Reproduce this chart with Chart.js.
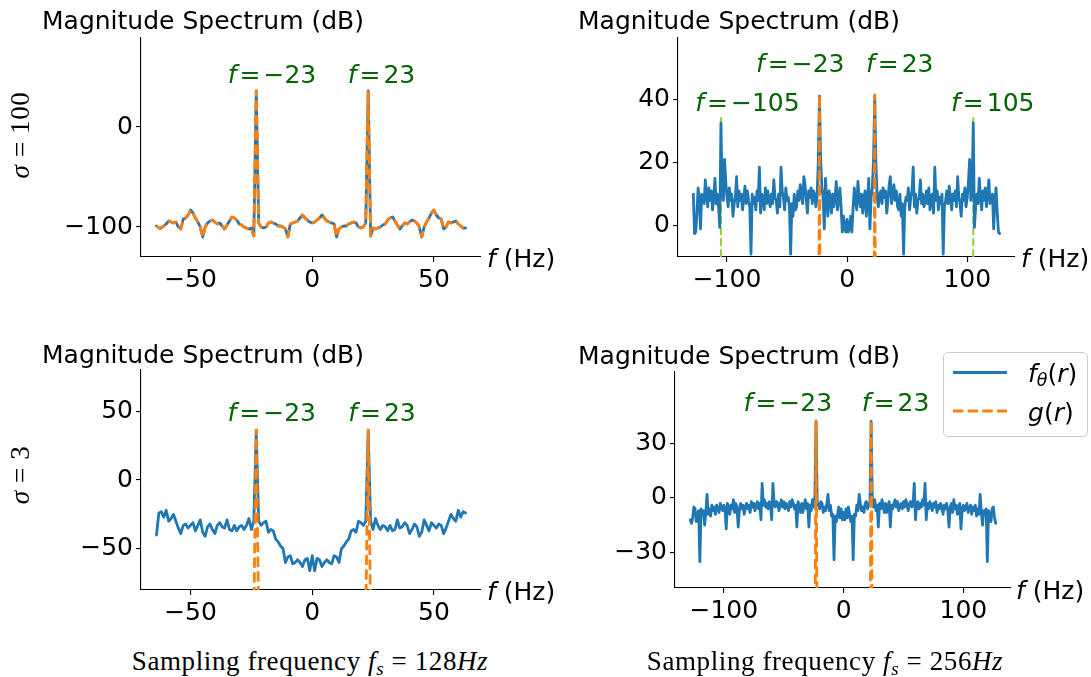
<!DOCTYPE html>
<html><head><meta charset="utf-8">
<script src="https://cdn.jsdelivr.net/npm/chart.js@4.4.1/dist/chart.umd.min.js"></script>
<style>
html,body{margin:0;padding:0;background:#fff;}
#page{position:relative;width:1091px;height:677px;overflow:hidden;font-family:"DejaVu Sans",sans-serif;}
canvas{position:absolute;}
.t{position:absolute;white-space:nowrap;color:#000;line-height:1;}
.title{font-family:"DejaVu Sans";font-size:25px;}
.serif{font-family:"Liberation Serif",serif;font-size:27px;letter-spacing:0.6px;}
.mid{transform:translateX(-50%);}
.rot{transform:translate(-50%,-50%) rotate(-90deg);}
#legend{position:absolute;left:943px;top:352px;width:143px;height:83px;border:1px solid #cccccc;border-radius:5px;background:rgba(255,255,255,0.8);}
#legend .lt{position:absolute;font-family:"DejaVu Sans";font-size:25px;line-height:1;white-space:nowrap;}
sub{font-size:70%;vertical-align:-0.25em;line-height:0;}
</style></head>
<body><div id="page">
<canvas id="cTL"></canvas><canvas id="cTR"></canvas><canvas id="cBL"></canvas><canvas id="cBR"></canvas>
<div class="t title" style="left:42px;top:8px;">Magnitude Spectrum (dB)</div>
<div class="t title" style="left:578px;top:8px;">Magnitude Spectrum (dB)</div>
<div class="t title" style="left:42px;top:342px;">Magnitude Spectrum (dB)</div>
<div class="t title" style="left:578px;top:343px;">Magnitude Spectrum (dB)</div>
<div class="t serif rot" style="left:20px;top:135px;"><i>σ</i> = 100</div>
<div class="t serif rot" style="left:20px;top:475px;"><i>σ</i> = 3</div>
<div class="t serif mid" style="left:310px;top:648px;">Sampling frequency <i>f</i><sub><i>s</i></sub> = 128<i>Hz</i></div>
<div class="t serif mid" style="left:825px;top:648px;">Sampling frequency <i>f</i><sub><i>s</i></sub> = 256<i>Hz</i></div>
<div id="legend">
<svg width="143" height="83" style="position:absolute;left:0;top:0;">
<line x1="9" y1="19.5" x2="63" y2="19.5" stroke="#1f77b4" stroke-width="2.8"/>
<line x1="9" y1="58" x2="63" y2="58" stroke="#ff7f0e" stroke-width="2.8" stroke-dasharray="10.3 4.4"/>
</svg>
<div class="lt" style="left:84px;top:8px;"><i>f</i><sub><i>θ</i></sub>(<i>r</i>)</div>
<div class="lt" style="left:84px;top:47px;"><i>g</i>(<i>r</i>)</div>
</div>
</div>
<script>
// ---------- categories (frequency bins, Hz) ----------
const freq128 = [
-64,-63,-62,-61,-60,-59,-58,-57,-56,-55,-54,-53,-52,-51,-50,-49,
-48,-47,-46,-45,-44,-43,-42,-41,-40,-39,-38,-37,-36,-35,-34,-33,
-32,-31,-30,-29,-28,-27,-26,-25,-24,-23,-22,-21,-20,-19,-18,-17,
-16,-15,-14,-13,-12,-11,-10,-9,-8,-7,-6,-5,-4,-3,-2,-1,
0,1,2,3,4,5,6,7,8,9,10,11,12,13,14,15,
16,17,18,19,20,21,22,23,24,25,26,27,28,29,30,31,
32,33,34,35,36,37,38,39,40,41,42,43,44,45,46,47,
48,49,50,51,52,53,54,55,56,57,58,59,60,61,62,63];
const freq256 = [
-128,-127,-126,-125,-124,-123,-122,-121,-120,-119,-118,-117,-116,-115,-114,-113,
-112,-111,-110,-109,-108,-107,-106,-105,-104,-103,-102,-101,-100,-99,-98,-97,
-96,-95,-94,-93,-92,-91,-90,-89,-88,-87,-86,-85,-84,-83,-82,-81,
-80,-79,-78,-77,-76,-75,-74,-73,-72,-71,-70,-69,-68,-67,-66,-65,
-64,-63,-62,-61,-60,-59,-58,-57,-56,-55,-54,-53,-52,-51,-50,-49,
-48,-47,-46,-45,-44,-43,-42,-41,-40,-39,-38,-37,-36,-35,-34,-33,
-32,-31,-30,-29,-28,-27,-26,-25,-24,-23,-22,-21,-20,-19,-18,-17,
-16,-15,-14,-13,-12,-11,-10,-9,-8,-7,-6,-5,-4,-3,-2,-1,
0,1,2,3,4,5,6,7,8,9,10,11,12,13,14,15,
16,17,18,19,20,21,22,23,24,25,26,27,28,29,30,31,
32,33,34,35,36,37,38,39,40,41,42,43,44,45,46,47,
48,49,50,51,52,53,54,55,56,57,58,59,60,61,62,63,
64,65,66,67,68,69,70,71,72,73,74,75,76,77,78,79,
80,81,82,83,84,85,86,87,88,89,90,91,92,93,94,95,
96,97,98,99,100,101,102,103,104,105,106,107,108,109,110,111,
112,113,114,115,116,117,118,119,120,121,122,123,124,125,126,127];

// ---------- tick labels ----------
const xTicks128 = [-50, 0, 50];
const xTicks256 = [-100, 0, 100];
const yTicksTL = [-100, 0];
const yTicksTR = [0, 20, 40];
const yTicksBL = [-50, 0, 50];
const yTicksBR = [-30, 0, 30];

// ---------- annotated frequencies ----------
const peakFreqs = [-23, 23];
const aliasFreqs = [-105, 105];
const aliasLineTop = [35, 35];

// ---------- sigma = 100, fs = 128 ----------
const fthetaTL = [
-99,-101,-101,-99,-97,-94,-95,-96,-95,-100,-102,-92,-91,-88,-83,-86,
-91,-95,-100,-110,-100,-96,-94,-93,-95,-97,-96,-99,-102,-98,-94,-90,
-91,-93,-97,-98,-100,-101,-102,-101,-109,36,-96,-100,-101,-100,-96,-95,
-96,-97,-99,-99,-100,-102,-110,-97,-96,-95,-94,-91,-88,-91,-93,-95,
-96,-95,-93,-91,-88,-91,-94,-95,-96,-97,-110,-102,-100,-99,-99,-97,
-96,-95,-96,-100,-101,-100,-96,36,-109,-101,-102,-101,-100,-98,-97,-93,
-91,-90,-94,-98,-102,-99,-96,-97,-95,-93,-94,-96,-100,-110,-100,-95,
-91,-86,-83,-88,-91,-92,-102,-100,-95,-96,-95,-94,-97,-99,-101,-101];
const gTL = [
-99,-101,-101,-99,-97,-94,-95,-96,-95,-100,-102,-92,-91,-88,-83,-86,
-91,-95,-100,-110,-100,-96,-94,-93,-95,-97,-96,-99,-102,-98,-94,-90,
-91,-93,-97,-98,-100,-101,-102,-101,-109,36,-96,-100,-101,-100,-96,-95,
-96,-97,-99,-99,-100,-102,-110,-97,-96,-95,-94,-91,-88,-91,-93,-95,
-96,-95,-93,-91,-88,-91,-94,-95,-96,-97,-110,-102,-100,-99,-99,-97,
-96,-95,-96,-100,-101,-100,-96,36,-109,-101,-102,-101,-100,-98,-97,-93,
-91,-90,-94,-98,-102,-99,-96,-97,-95,-93,-94,-96,-100,-110,-100,-95,
-91,-86,-83,-88,-91,-92,-102,-100,-95,-96,-95,-94,-97,-99,-101,-101];

// ---------- sigma = 100, fs = 256 ----------
const fthetaTR = [
10,-2.5,-2,4,12,8,-1,10,9,7,14.5,10,6,12,8,11,
5,9,15,7,10,6,-0.5,32.5,11,8,21,14,9,6,12,8,
10,3,7,9,15.5,6,11,8,10,5,9,12.5,7,11,8,6,
-9,10,7,9,5,11,8,18.5,4,10,9,5,12,7,11,8,
6,10,7,14.5,9,8,4,10,6,18.5,11,9,5,12,8,9,
6,-9,7,3,10,5,6,11,8,13,10,7,15.5,13,8,4,
11,9,12,7,11,10,6,9,20,41,21,12,9,-1,15,8,
3,11,9,4,10,6,9,14,5,8,12,6,-2,3,-1,-2,
2,-2,-1,3,-2,6,12,8,5,14,9,6,10,4,9,11,
3,8,15,-1,9,12,21,41,20,9,6,10,11,7,12,9,
11,4,8,13,15.5,7,10,13,8,11,6,5,10,3,7,-9,
6,9,8,12,5,9,11,18.5,6,10,4,8,9,14.5,7,10,
6,8,11,7,12,5,9,10,4,18.5,8,11,5,9,7,10,
-9,6,8,11,7,12.5,9,5,10,8,11,6,15.5,9,7,3,
10,8,12,6,9,14,21,8,11,32.5,-0.5,6,10,7,15,9,
5,11,8,12,6,10,14.5,7,9,10,-1,8,12,4,-2,-2.5];
const gTRFreq = [-128, -24, -23, -22, 22, 23, 24, 127];
const gTR = [-100, -100, 41.4, -100, -100, 41.4, -100, -100];

// ---------- sigma = 3, fs = 128 ----------
const fthetaBL = [
-40,-24,-23,-27,-22,-30,-28,-25,-30,-35,-39,-33,-32,-35,-33,-31,
-37,-33,-29,-38,-41,-34,-32,-36,-39,-33,-31,-34,-35,-29,-36,-37,
-33,-37,-34,-33,-36,-33,-28,-36,-30,36,-30,-33,-31,-30,-38,-36,
-37,-43,-45,-48,-50,-60,-56,-55,-61,-60,-58,-60,-63,-58,-57,-66,
-55,-66,-57,-58,-63,-60,-58,-60,-61,-55,-56,-60,-50,-48,-45,-43,
-37,-36,-38,-30,-31,-33,-30,36,-30,-36,-28,-33,-36,-33,-34,-37,
-33,-37,-36,-29,-35,-34,-31,-33,-39,-36,-32,-34,-41,-38,-29,-33,
-37,-31,-33,-35,-32,-33,-39,-35,-30,-25,-28,-30,-22,-27,-23,-24];
const gBLFreq = [-64, -24, -23, -22, 22, 23, 24, 63];
const gBL = [-100, -100, 36.4, -100, -100, 36.4, -100, -100];

// ---------- sigma = 3, fs = 256 ----------
const fthetaBR = [
-12,-14,-11,-5,-6,-13,-9,-7,-35,-6,-9,-7,-15,-8,2,-9,
-6,-10,-4,-7,-5,-9,-4,-6,-8,-3,-5,-7,-4,-6,-17,-3,
-5,-9,-4,-6,-1,-8,-3,-5,-16,-7,-3,-6,-4,-9,-5,-3,
-6,-4,-8,-2,-5,-3,-7,-4,-2,-6,-3,-12,8,-4,-1,-5,
-3,-6,-2,-4,-12,8,-3,-5,-2,-3,-7,-4,-1,-5,-2,-6,
-3,-4,-7,-2,-5,-1,-3,-6,-4,-16,-2,-5,-8,-3,-8,-4,
-1,-6,-3,-16,-4,-7,-1,-5,-1,42,-2,-4,-6,-2,-3,-8,
-5,-7,-3,2,-7,-4,-10,-9,-34,-10,-13,-9,-5,-11,-6,-12,
-8,-12,-6,-11,-5,-9,-13,-10,-34,-9,-10,-4,-7,2,-3,-7,
-5,-8,-3,-2,-6,-4,-2,42,-1,-5,-1,-7,-4,-16,-3,-6,
-1,-4,-8,-3,-8,-5,-2,-16,-4,-6,-3,-1,-5,-2,-7,-4,
-3,-6,-2,-5,-1,-4,-7,-3,-2,-5,-3,8,-12,-4,-2,-6,
-3,-5,-1,-4,8,-12,-3,-6,-2,-4,-7,-3,-5,-2,-8,-4,
-6,-3,-5,-9,-4,-6,-3,-7,-16,-5,-3,-8,-1,-6,-4,-9,
-5,-3,-17,-6,-4,-7,-5,-3,-8,-6,-4,-9,-5,-7,-4,-10,
-6,-9,2,-8,-15,-7,-9,-6,-35,-7,-9,-13,-6,-5,-11,-14];
const gBRFreq = [-128, -24, -23, -22, 22, 23, 24, 127];
const gBR = [-100, -100, 42.3, -100, -100, 42.3, -100, -100];

// ---------- styling ----------
const BLUE = '#1f77b4', ORANGE = '#ff7f0e', GREEN = '#006400', LIME = '#9acd32';
const FONT = 'DejaVu Sans';
const FS = 25;
const LW = 2.8;
Chart.defaults.font.family = FONT;

function pts(xs, ys) { return xs.map((x, i) => ({x: x, y: ys[i]})); }
function fmt(v) { return v < 0 ? '\u2212' + Math.abs(v) : String(v); }

function drawParts(ctx, parts, x, baseY, align, color) {
  ctx.fillStyle = color;
  ctx.textBaseline = 'alphabetic';
  ctx.textAlign = 'left';
  let total = 0;
  const ws = parts.map(p => { ctx.font = p[0] + ' ' + FS + 'px "' + FONT + '"'; const w = ctx.measureText(p[1]).width + (p[2] || 0); total += w; return w; });
  let cx = align === 'center' ? x - total / 2 : x;
  parts.forEach((p, i) => { ctx.font = p[0] + ' ' + FS + 'px "' + FONT + '"'; ctx.fillText(p[1], cx, baseY); cx += ws[i]; });
}

const extras = {
  id: 'extras',
  afterDraw(chart, args, opts) {
    const ctx = chart.ctx, xs = chart.scales.x, ys = chart.scales.y, a = chart.chartArea;
    ctx.save();
    drawParts(ctx, [['italic', 'f', 0], ['normal', ' (Hz)', 0]], a.right + opts.lx, a.bottom + opts.ly, 'left', '#000');
    (opts.notes || []).forEach(n => {
      const x = xs.getPixelForValue(n.f) + n.dx;
      const y = ys.getPixelForValue(n.y) + 9;
      const num = fmt(n.f);
      drawParts(ctx, [['italic', 'f', 3], ['normal', '=', 3], ['normal', num, 0]], x, y, 'center', GREEN);
    });
    ctx.restore();
  }
};

function axis(min, max, ticksArr, isX, fixed) {
  return {
    type: 'linear', min: min, max: max,
    afterBuildTicks: s => { s.ticks = ticksArr.map(v => ({value: v})); },
    afterFit: s => { if (isX) s.height = fixed; else s.width = fixed; },
    grid: {display: true, drawOnChartArea: false, drawTicks: true, tickLength: 5, color: '#000', lineWidth: 1.1},
    border: {display: true, color: '#000', width: 1.1},
    ticks: {color: '#000', font: {family: FONT, size: FS}, padding: 3, autoSkip: false, maxRotation: 0,
            callback: v => fmt(v)}
  };
}

function makePanel(id, box, xr, yr, xt, yt, datasets, notes, lab) {
  const padL = 110, padT = 30, padR = 90, padB = 50;
  const cv = document.getElementById(id);
  const w = (box.R - box.L) + padL + padR;
  const h = (box.B - box.T) + padT + padB;
  cv.width = w; cv.height = h;
  cv.style.left = (box.L - padL) + 'px'; cv.style.top = (box.T - padT) + 'px';
  cv.style.width = w + 'px'; cv.style.height = h + 'px';
  new Chart(cv, {
    type: 'line',
    data: {datasets: datasets},
    options: {
      responsive: false, animation: false, devicePixelRatio: 1,
      layout: {padding: {left: 0, top: padT, right: padR, bottom: 0}},
      elements: {point: {radius: 0}, line: {tension: 0, borderJoinStyle: 'round'}},
      plugins: {legend: {display: false}, tooltip: {enabled: false},
                extras: {notes: notes, lx: lab[0], ly: lab[1]}},
      scales: {x: axis(xr[0], xr[1], xt, true, padB), y: axis(yr[0], yr[1], yt, false, padL)}
    },
    plugins: [extras]
  });
}

// order: higher value is drawn first (underneath)
function blue(data) { return {data: data, order: 2, borderColor: BLUE, borderWidth: LW, fill: false, borderCapStyle: 'round'}; }
function orange(data) { return {data: data, order: 1, borderColor: ORANGE, borderWidth: LW, fill: false, borderDash: [10.3, 4.4], borderCapStyle: 'butt'}; }
function lime(f, top, bottom) { return {data: [{x: f, y: bottom}, {x: f, y: top}], order: 3, borderColor: LIME, borderWidth: 2, borderDash: [7.7, 3.3], fill: false}; }

const yrTL = [-130, 89], yrTR = [-9.9, 59.4], yrBL = [-80, 80], yrBR = [-49.5, 69.2];
const xr128 = [-70.35, 69.35], xr256 = [-140.75, 139.75];

makePanel('cTL', {L: 141, R: 481, T: 38, B: 257}, xr128, yrTL, xTicks128, yTicksTL,
  [blue(pts(freq128, fthetaTL)), orange(pts(freq128, gTL))],
  [{f: peakFreqs[0], dx: 15.7, y: 53}, {f: peakFreqs[1], dx: 13.3, y: 53}], [6, 10]);

makePanel('cTR', {L: 678, R: 1015, T: 38, B: 257}, xr256, yrTR, xTicks256, yTicksTR,
  [lime(aliasFreqs[0], aliasLineTop[0], yrTR[0]), lime(aliasFreqs[1], aliasLineTop[1], yrTR[0]),
   blue(pts(freq256, fthetaTR)), orange(pts(gTRFreq, gTR))],
  [{f: peakFreqs[0], dx: -19.2, y: 51.5}, {f: peakFreqs[1], dx: 25, y: 51.5},
   {f: aliasFreqs[0], dx: 26.5, y: 39.2}, {f: aliasFreqs[1], dx: 19.5, y: 39.2}], [6, 10]);

makePanel('cBL', {L: 141, R: 481, T: 370, B: 590}, xr128, yrBL, xTicks128, yTicksBL,
  [blue(pts(freq128, fthetaBL)), orange(pts(gBLFreq, gBL))],
  [{f: peakFreqs[0], dx: 15.5, y: 49.1}, {f: peakFreqs[1], dx: 13.8, y: 49.1}], [6, 10]);

makePanel('cBR', {L: 675, R: 1011, T: 372, B: 588}, xr256, yrBR, xTicks256, yTicksBR,
  [blue(pts(freq256, fthetaBR)), orange(pts(gBRFreq, gBR))],
  [{f: peakFreqs[0], dx: -28.2, y: 52.7}, {f: peakFreqs[1], dx: 24.5, y: 52.7}], [5, 11]);
</script>
</body></html>
